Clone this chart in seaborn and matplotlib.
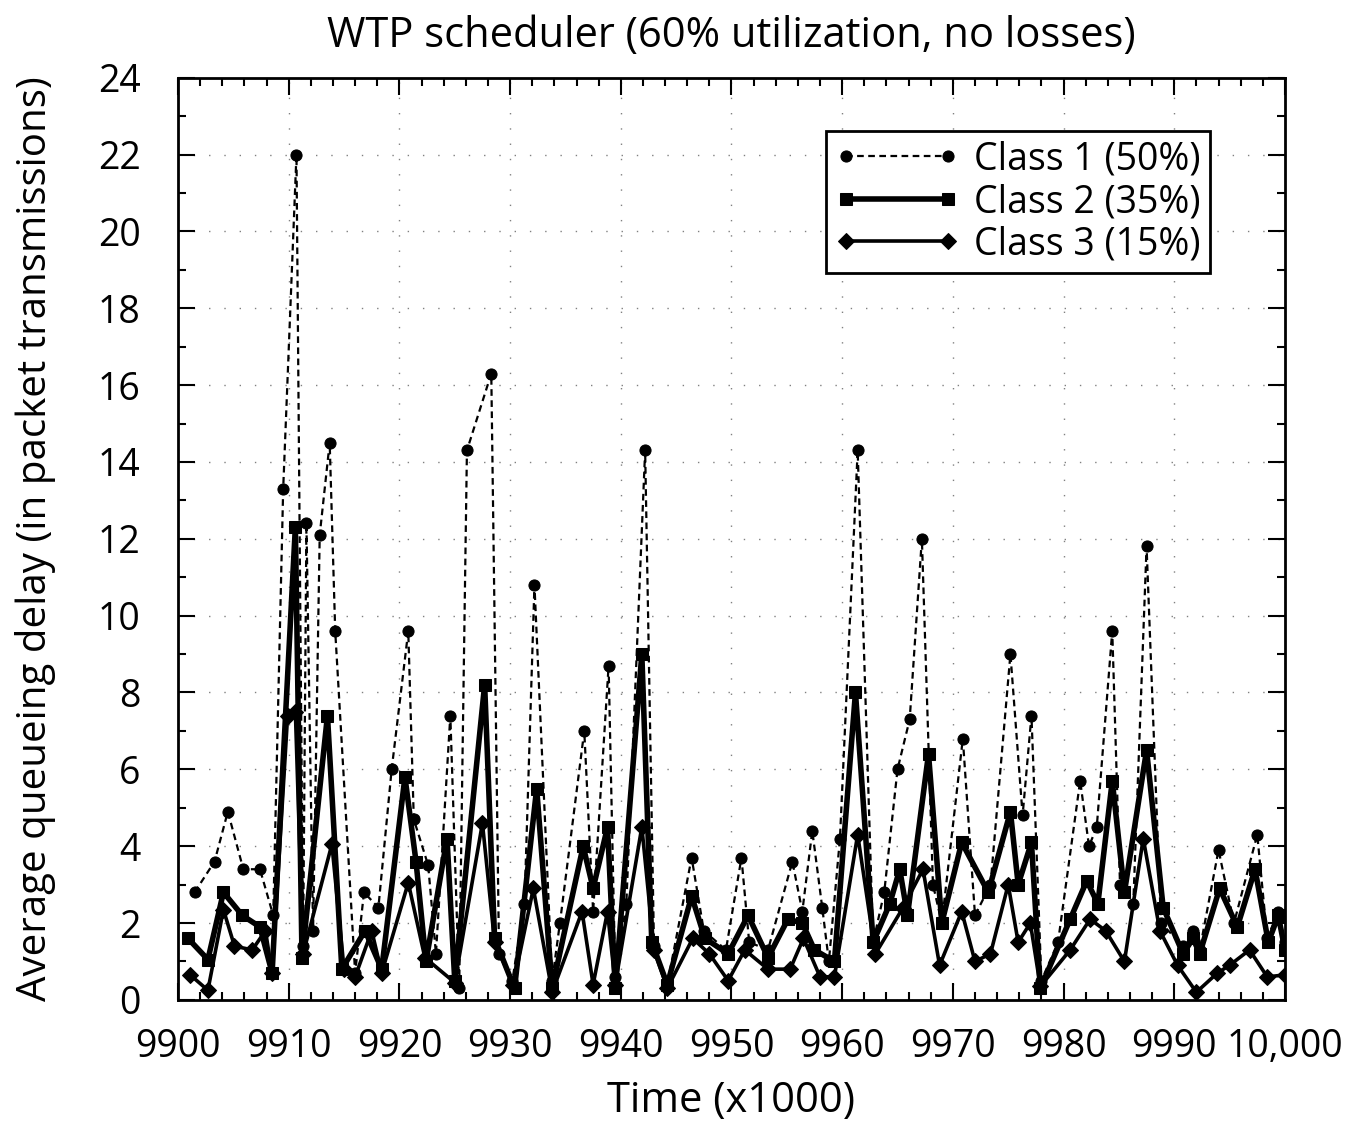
import numpy as np
import pandas as pd
import matplotlib
matplotlib.use("Agg")
import matplotlib.pyplot as plt
from matplotlib.ticker import MultipleLocator, FixedLocator
import seaborn as sns

# 数据：时间（x1000）与三个类别的平均排队时延
t1 = [9901.5, 9903.3, 9904.5, 9905.9, 9907.4, 9908.6, 9909.5, 9910.7, 9911.3, 9911.6,
      9912.2, 9912.8, 9913.7, 9914.2, 9916.0, 9916.8, 9918.1, 9919.3, 9920.8, 9921.3,
      9922.6, 9923.3, 9924.6, 9925.4, 9926.1, 9928.3, 9929.0, 9930.2, 9931.3, 9932.2,
      9933.8, 9934.5, 9936.7, 9937.5, 9938.9, 9939.5, 9940.5, 9942.2, 9943.0, 9944.2,
      9946.4, 9947.5, 9949.5, 9950.9, 9951.6, 9953.3, 9955.5, 9956.4, 9957.3, 9958.2,
      9958.8, 9959.8, 9961.4, 9962.8, 9963.8, 9965.0, 9966.1, 9967.2, 9968.2, 9969.0,
      9970.9, 9972.0, 9973.4, 9975.2, 9976.3, 9977.1, 9978.0, 9979.5, 9981.5, 9982.3,
      9983.0, 9984.4, 9985.1, 9986.3, 9987.5, 9988.8, 9990.8, 9991.7, 9992.3, 9994.0,
      9995.4, 9997.5, 9998.4, 9999.4, 10000.0]
class1 = [2.8, 3.6, 4.9, 3.4, 3.4, 2.2, 13.3, 22.0, 1.4, 12.4,
          1.8, 12.1, 14.5, 9.6, 0.7, 2.8, 2.4, 6.0, 9.6, 4.7,
          3.5, 1.2, 7.4, 0.3, 14.3, 16.3, 1.2, 0.5, 2.5, 10.8,
          0.5, 2.0, 7.0, 2.3, 8.7, 0.6, 2.5, 14.3, 1.4, 0.4,
          3.7, 1.8, 1.3, 3.7, 1.5, 1.3, 3.6, 2.3, 4.4, 2.4,
          1.0, 4.2, 14.3, 1.5, 2.8, 6.0, 7.3, 12.0, 3.0, 2.0,
          6.8, 2.2, 3.0, 9.0, 4.8, 7.4, 0.5, 1.5, 5.7, 4.0,
          4.5, 9.6, 3.0, 2.5, 11.8, 2.0, 1.4, 1.8, 1.3, 3.9,
          2.0, 4.3, 1.6, 2.3, 1.5]

t2 = [9900.9, 9902.7, 9904.1, 9905.8, 9907.4, 9908.5, 9910.6, 9911.2, 9913.5, 9914.8,
      9916.9, 9918.4, 9920.5, 9921.5, 9922.4, 9924.3, 9925.0, 9927.7, 9928.6, 9930.4,
      9932.4, 9933.8, 9936.6, 9937.5, 9938.8, 9939.5, 9941.9, 9942.8, 9944.2, 9946.4,
      9947.6, 9949.7, 9951.5, 9953.3, 9955.1, 9956.4, 9957.5, 9959.3, 9961.2, 9962.8,
      9964.3, 9965.2, 9965.9, 9967.8, 9969.0, 9970.8, 9973.2, 9975.2, 9975.9, 9977.1,
      9977.9, 9980.6, 9982.1, 9983.1, 9984.4, 9985.5, 9987.5, 9989.0, 9990.8, 9991.7,
      9992.3, 9994.1, 9995.7, 9997.3, 9998.5, 9999.4, 10000.0]
class2 = [1.6, 1.05, 2.8, 2.2, 1.9, 0.7, 12.3, 1.1, 7.4, 0.8,
          1.8, 0.8, 5.8, 3.6, 1.0, 4.2, 0.5, 8.2, 1.6, 0.3,
          5.5, 0.3, 4.0, 2.9, 4.5, 0.3, 9.0, 1.5, 0.4, 2.7,
          1.6, 1.2, 2.2, 1.1, 2.1, 2.0, 1.3, 1.0, 8.0, 1.5,
          2.5, 3.4, 2.2, 6.4, 2.0, 4.1, 2.8, 4.9, 3.0, 4.1,
          0.3, 2.1, 3.1, 2.5, 5.7, 2.8, 6.5, 2.4, 1.2, 1.6,
          1.2, 2.9, 1.9, 3.4, 1.5, 2.2, 1.3]

t3 = [9901.1, 9902.7, 9904.1, 9905.1, 9906.7, 9907.9, 9908.5, 9909.9, 9910.6, 9911.3,
      9913.9, 9915.0, 9916.0, 9917.5, 9918.4, 9920.8, 9922.3, 9925.0, 9927.5, 9928.6,
      9930.3, 9932.1, 9933.8, 9936.5, 9937.5, 9938.8, 9939.5, 9941.9, 9943.0, 9944.2,
      9946.5, 9948.0, 9949.7, 9951.2, 9953.3, 9955.3, 9956.5, 9958.0, 9959.3, 9961.4,
      9963.0, 9965.5, 9967.3, 9968.8, 9970.8, 9972.0, 9973.4, 9975.0, 9975.9, 9977.0,
      9977.9, 9980.6, 9982.4, 9983.8, 9985.5, 9987.2, 9988.7, 9990.3, 9992.0, 9993.9,
      9995.0, 9996.8, 9998.4, 10000.0]
class3 = [0.65, 0.25, 2.35, 1.4, 1.3, 1.8, 0.7, 7.4, 7.5, 1.2,
          4.05, 0.8, 0.6, 1.8, 0.7, 3.05, 1.1, 0.45, 4.6, 1.5,
          0.4, 2.9, 0.2, 2.3, 0.4, 2.3, 0.4, 4.5, 1.3, 0.3,
          1.6, 1.2, 0.5, 1.3, 0.8, 0.8, 1.6, 0.6, 0.6, 4.3,
          1.2, 2.4, 3.4, 0.9, 2.3, 1.0, 1.2, 3.0, 1.5, 2.0,
          0.35, 1.3, 2.1, 1.8, 1.0, 4.2, 1.8, 0.9, 0.2, 0.7,
          0.9, 1.3, 0.6, 0.65]

labels = ["Class 1 (50%)", "Class 2 (35%)", "Class 3 (15%)"]
xtick_vals = [9900, 9910, 9920, 9930, 9940, 9950, 9960, 9970, 9980, 9990, 10000]
xtick_labels = ["9900", "9910", "9920", "9930", "9940", "9950", "9960", "9970",
                "9980", "9990", "10,000"]

sns.set_style("ticks")
plt.rcParams['font.family'] = ['Open Sans', 'DejaVu Sans']
plt.rcParams['text.color'] = 'black'
plt.rcParams['axes.labelcolor'] = 'black'

fig = plt.figure(figsize=(13.59, 11.26), dpi=100)
ax = fig.add_axes([0.131, 0.112, 0.8145, 0.819])

# 三条曲线：虚线+圆点、粗实线+方块、实线+菱形
sns.lineplot(x=t1, y=class1, ax=ax, color="black", linestyle=(0, (3, 2)), lw=1.6,
             marker="o", markersize=8, markeredgecolor="black", label=labels[0],
             sort=False, errorbar=None)
sns.lineplot(x=t2, y=class2, ax=ax, color="black", lw=4.0,
             marker="s", markersize=8, markeredgecolor="black", label=labels[1],
             sort=False, errorbar=None)
sns.lineplot(x=t3, y=class3, ax=ax, color="black", lw=2.6,
             marker="D", markersize=8, markeredgecolor="black", label=labels[2],
             sort=False, errorbar=None)

ax.set_xlim(9900, 10000)
ax.set_ylim(0, 24)
ax.xaxis.set_major_locator(FixedLocator(xtick_vals))
ax.set_xticklabels(xtick_labels)
ax.xaxis.set_minor_locator(MultipleLocator(2))
ax.yaxis.set_major_locator(MultipleLocator(2))
ax.yaxis.set_minor_locator(MultipleLocator(1))
ax.tick_params(which="both", direction="in", top=True, right=True, width=1.5,
               labelsize=27, colors="black")
ax.tick_params(which="major", length=12)
ax.tick_params(which="minor", length=6)
ax.tick_params(axis="x", pad=20)
ax.tick_params(axis="y", pad=27)
for s in ax.spines.values():
    s.set_linewidth(2)
    s.set_color("black")
ax.grid(True, which="major", linestyle=(0, (1, 10)), color="0.5", lw=1.0)

ax.set_title("WTP scheduler (60% utilization, no losses)", fontsize=30, pad=22)
ax.set_xlabel("Time (x1000)", fontsize=30, labelpad=10)
ax.set_ylabel("Average queueing delay (in packet transmissions)", fontsize=29, labelpad=30)

leg = ax.legend(loc="upper right", bbox_to_anchor=(0.932, 0.942), numpoints=2,
                handlelength=3.3, fontsize=27, frameon=True, fancybox=False,
                borderpad=0.25, labelspacing=0.12, handletextpad=0.4,
                borderaxespad=0.0)
leg.get_frame().set_edgecolor("black")
leg.get_frame().set_linewidth(2)
leg.get_frame().set_alpha(1)

fig.savefig("out.png", dpi=100)
